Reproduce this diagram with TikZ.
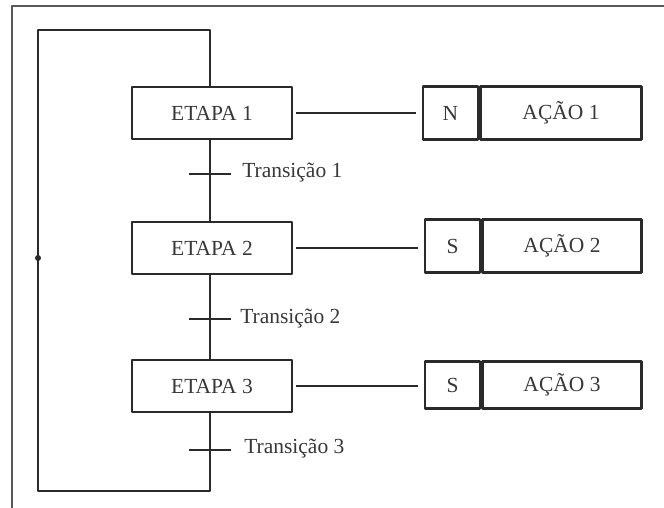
\documentclass[tikz,border=0pt]{standalone}
\usepackage{fontspec}
\setmainfont{Liberation Serif}
\usetikzlibrary{arrows.meta,calc}
\definecolor{ink}{HTML}{2A2A2A}
\definecolor{txt}{HTML}{383838}
\begin{document}
\begin{tikzpicture}[x=1pt,y=-1pt,
  line width=2.5pt, draw=ink, line join=round,
  every node/.style={font=\fontsize{21.5}{24}\selectfont, text=txt},
  stepbox/.style={draw=ink, line width=2.5pt, minimum width=160pt, minimum height=52pt, inner sep=0pt},
  qualbox/.style={draw=ink, line width=2.5pt, minimum width=55pt, minimum height=53pt, inner sep=0pt},
  actbox/.style={draw=ink, line width=2.5pt, minimum width=161pt, minimum height=53pt, inner sep=0pt},
  tlabel/.style={anchor=west, inner sep=0pt},
  wire/.style={draw=ink, line width=2.5pt},
  tick/.style={draw=ink, line width=2.5pt}]
\useasboundingbox (0,0) rectangle (664,508);
\fill[white] (0,0) rectangle (664,508);
% outer frame
\coordinate (fl) at (12,508);
\coordinate (ftl) at (12,6);
\coordinate (ftr) at (664,6);
\draw[line width=2.2pt, draw=black!65] (fl) -- (ftl) -- (ftr);
% steps
\node[stepbox] (e1) at (212,113) {ETAPA 1};
\node[stepbox] (e2) at (212,248) {ETAPA 2};
\node[stepbox] (e3) at (212,386) {ETAPA 3};
% actions
\node[qualbox] (q1) at (450.5,113) {N};
\node[actbox, anchor=west] (a1) at (q1.east) {AÇÃO 1};
\node[qualbox] (q2) at (452.5,246) {S};
\node[actbox, anchor=west, minimum width=159pt] (a2) at (q2.east) {AÇÃO 2};
\node[qualbox, minimum height=47pt] (q3) at (452.5,385) {S};
\node[actbox, anchor=west, minimum width=159pt, minimum height=47pt] (a3) at (q3.east) {AÇÃO 3};
% step -> action links
\draw[wire, shorten <=3pt, shorten >=6pt] (e1.east) -- (q1.west);
\draw[wire, shorten <=3pt, shorten >=6pt] (e2.east) -- (q2.west |- e2.east);
\draw[wire, shorten <=3pt, shorten >=6pt] (e3.east) -- (q3.west |- e3.east);
% transitions
\coordinate (t1) at (210,174);
\coordinate (t2) at (210,319);
\coordinate (t3) at (210,450);
\draw[wire] (e1.south -| t1) -- (e2.north -| t1);
\draw[wire] (e2.south -| t1) -- (e3.north -| t1);
\foreach \t in {t1,t2,t3} {\draw[tick] ($(\t)+(-21,0)$) -- ($(\t)+(21,0)$);}
\node[tlabel] (l1) at (241,173) {Transição 1};
\node[tlabel] (l2) at (239,319) {Transição 2};
\node[tlabel] (l3) at (243,449) {Transição 3};
% return loop
\coordinate (lb) at (210,491);
\coordinate (lbl) at (38,491);
\coordinate (ltl) at (38,30);
\coordinate (ltr) at (210,30);
\draw[wire] (e3.south -| lb) -- (lb) -- (lbl) -- (ltl) -- (ltr) -- (e1.north -| ltr);
\coordinate (ar) at (38,258);
\fill[ink] (ar) circle (3pt);
\end{tikzpicture}
\end{document}
